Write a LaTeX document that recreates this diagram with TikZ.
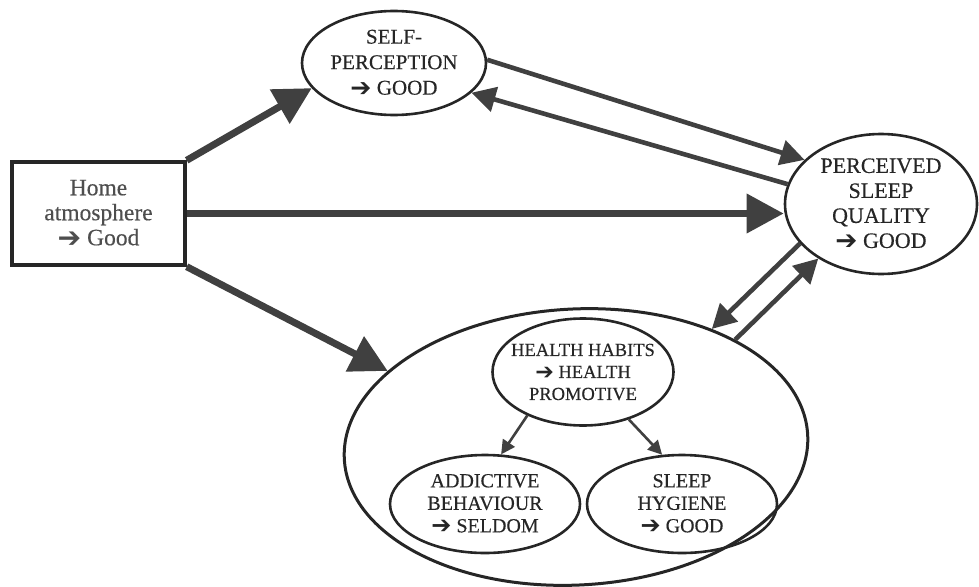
\documentclass[tikz,border=0pt]{standalone}
\usepackage{fontspec}
\setmainfont{Liberation Serif}
\newfontfamily\labelfont{Liberation Serif}[FakeBold=0.35]
\newfontfamily\symfont{DejaVu Sans}
\usetikzlibrary{shapes.geometric,arrows.meta}
\newcommand\goarrow{\raisebox{-0.08em}{\scalebox{1.2}{\symfont\char"2794}}}
\definecolor{ink}{HTML}{262626}
\definecolor{arrowgray}{HTML}{404040}
\definecolor{softink}{HTML}{4E4E4E}

\begin{document}
\begin{tikzpicture}[x=1pt,y=-1pt,
  oval/.style={draw=ink, line width=2.6pt, ellipse, inner sep=0pt},
  caption/.style={text=ink, align=center},
  bigflow/.style={draw=arrowgray, line width=7pt, -{Triangle[length=37pt,width=38pt]}},
  midflow/.style={draw=arrowgray, line width=4.6pt, -{Triangle[length=24pt,width=25pt]}},
  smallflow/.style={draw=arrowgray, line width=2.6pt, -{Triangle[length=14pt,width=14pt]}},
]
\useasboundingbox (0,0) rectangle (979,586);

% source box
\node[draw=ink, line width=3.4pt, minimum width=173pt, minimum height=103pt, inner sep=0pt,
  label={[caption, text=softink, font=\labelfont\fontsize{23.5}{25}\selectfont]center:Home\\atmosphere\\\goarrow{} Good}]
  (home) at (98.5,213.5) {};

% outcome ellipses
\node[oval, minimum width=184pt, minimum height=104pt,
  label={[caption, font=\labelfont\fontsize{21}{25.5}\selectfont]center:SELF-\\PERCEPTION\\\goarrow{} GOOD}]
  (self) at (394,63) {};

\node[oval, minimum width=192pt, minimum height=140pt,
  label={[caption, font=\labelfont\fontsize{22}{25}\selectfont]center:PERCEIVED\\SLEEP\\QUALITY\\\goarrow{} GOOD}]
  (perc) at (881,204) {};

% health habits cluster
\node[oval, line width=3pt, minimum width=464pt, minimum height=276pt, rotate=3]
  (big) at (576,447) {};

\node[oval, minimum width=181pt, minimum height=107pt,
  label={[caption, font=\labelfont\fontsize{18.5}{22}\selectfont]center:HEALTH HABITS\\\goarrow{} HEALTH\\PROMOTIVE}]
  (health) at (583,372) {};

\node[oval, minimum width=190pt, minimum height=98pt,
  label={[caption, font=\labelfont\fontsize{20}{22.5}\selectfont]center:ADDICTIVE\\BEHAVIOUR\\\goarrow{} SELDOM}]
  (addict) at (485,504) {};

\node[oval, minimum width=190pt, minimum height=98pt,
  label={[caption, font=\labelfont\fontsize{20}{22.5}\selectfont]center:SLEEP\\HYGIENE\\\goarrow{} GOOD}]
  (hygiene) at (682,504) {};

% influences from the home atmosphere
\draw[bigflow] (home.north east) -- (self.-163);
\draw[bigflow] (home.east) -- (home.east -| perc.west);
\draw[bigflow] (home.south east) -- (big.155);

% self-perception and sleep quality
\draw[midflow] (self.2) -- (perc.150);
\draw[midflow] (perc.168) -- (self.-21);

% health habits and sleep quality
\draw[midflow] (big.31) -- (perc.221);
\draw[midflow] (perc.206) -- (big.38.5);

% inside the cluster
\draw[smallflow] (health.218) -- (addict.72);
\draw[smallflow] (health.-46) -- (hygiene.112);
\end{tikzpicture}
\end{document}
